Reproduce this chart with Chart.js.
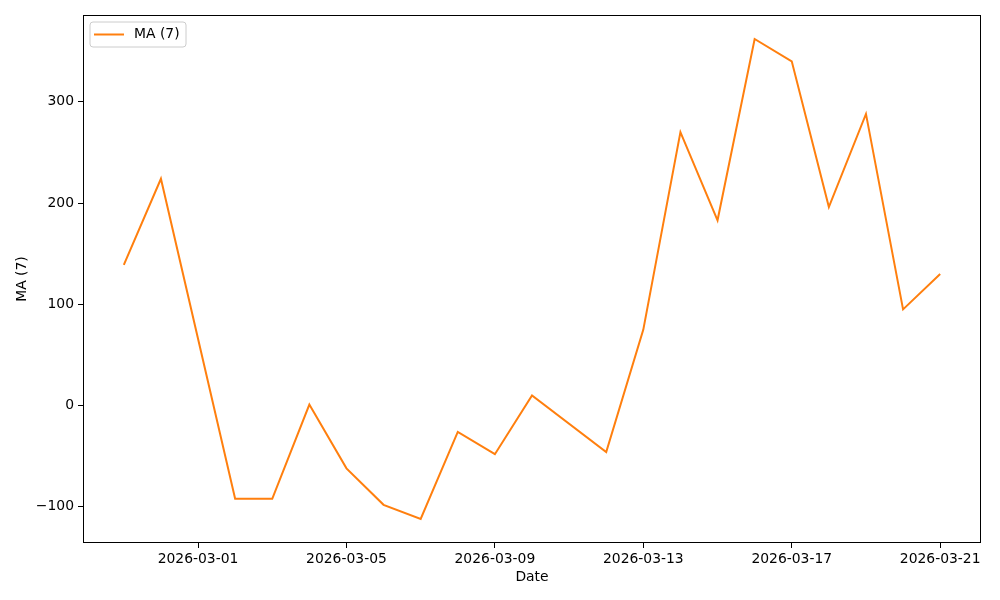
<!DOCTYPE html>
<html><head><meta charset="utf-8">
<script src="https://cdn.jsdelivr.net/npm/chart.js@4"></script>
<style>html,body{margin:0;padding:0;background:#fff}#wrap{width:1000px;height:600px}</style>
</head><body><div id="wrap"><canvas id="c" width="1000" height="600"></canvas></div>
<script>
const dates = ["2026-02-27","2026-02-28","2026-03-02","2026-03-03","2026-03-04","2026-03-05","2026-03-06","2026-03-07","2026-03-08","2026-03-09","2026-03-10","2026-03-12","2026-03-13","2026-03-14","2026-03-15","2026-03-16","2026-03-17","2026-03-18","2026-03-19","2026-03-20","2026-03-21"];
const maValues = [139, 224, -92, -92, 1, -62, -98, -112, -26, -48, 10, -46, 75, 270, 183, 362, 340, 196, 288, 95, 130];
const xTickDates = ["2026-03-01","2026-03-05","2026-03-09","2026-03-13","2026-03-17","2026-03-21"];
const yTicks = [-100, 0, 100, 200, 300];
const seriesLabel = "MA (7)";

const DAY = 86400000;
const base = Date.UTC(2026,1,27);
const toDay = s => { const [y,m,d] = s.split("-").map(Number); return (Date.UTC(y,m-1,d)-base)/DAY; };
const fromDay = v => { const t = new Date(base + Math.round(v)*DAY); return t.toISOString().slice(0,10); };
const pts = dates.map((d,i)=>({x:toDay(d), y:maValues[i]}));
const xs = pts.map(p=>p.x), ys = maValues;
const xmin = Math.min(...xs), xmax = Math.max(...xs), ymin = Math.min(...ys), ymax = Math.max(...ys);
const xm = (xmax-xmin)*0.05, ym = (ymax-ymin)*0.05;
const FONT = "DejaVu Sans";
const FS = 13.9;
const color = "#ff7f0e";

const framePlugin = {
  id:'frame',
  afterDraw(chart){
    const {ctx, chartArea:a} = chart;
    ctx.save();
    ctx.strokeStyle = '#000'; ctx.lineWidth = 1;
    ctx.strokeRect(Math.round(a.left)+0.5, Math.round(a.top)+0.5, Math.round(a.right-a.left)-1, Math.round(a.bottom-a.top)-1);
    // legend
    const lx = a.left+7, ly = a.top+7, lw = 96, lh = 25;
    ctx.beginPath();
    const r = 3;
    ctx.moveTo(lx+r,ly); ctx.lineTo(lx+lw-r,ly); ctx.quadraticCurveTo(lx+lw,ly,lx+lw,ly+r);
    ctx.lineTo(lx+lw,ly+lh-r); ctx.quadraticCurveTo(lx+lw,ly+lh,lx+lw-r,ly+lh);
    ctx.lineTo(lx+r,ly+lh); ctx.quadraticCurveTo(lx,ly+lh,lx,ly+lh-r);
    ctx.lineTo(lx,ly+r); ctx.quadraticCurveTo(lx,ly,lx+r,ly); ctx.closePath();
    ctx.fillStyle='rgba(255,255,255,0.8)'; ctx.fill();
    ctx.strokeStyle='#cccccc'; ctx.stroke();
    ctx.beginPath(); ctx.strokeStyle=color; ctx.lineWidth=2;
    ctx.moveTo(lx+4, ly+12.5); ctx.lineTo(lx+34, ly+12.5); ctx.stroke();
    ctx.fillStyle='#000'; ctx.font = FS+'px "'+FONT+'"'; ctx.textBaseline='middle'; ctx.textAlign='left';
    ctx.fillText(seriesLabel, lx+44, ly+12.5);
    ctx.restore();
  }
};

new Chart(document.getElementById('c'), {
  type:'line',
  data:{ datasets:[{ label:seriesLabel, data:pts, borderColor:color, backgroundColor:color, borderWidth:2, pointRadius:0, tension:0, fill:false }]},
  options:{
    responsive:false, animation:false,
    layout:{ padding:{ top:15, right:19, left:0, bottom:0 } },
    plugins:{ legend:{display:false}, tooltip:{enabled:false} },
    scales:{
      x:{ type:'linear', min:xmin-xm, max:xmax+xm,
        afterBuildTicks(s){ s.ticks = xTickDates.map(d=>({value:toDay(d)})); },
        afterFit(s){ s.height = 57; },
        ticks:{ callback:v=>fromDay(v), color:'#000', font:{family:FONT,size:FS}, padding:3, maxRotation:0, autoSkip:false },
        grid:{ drawOnChartArea:false, drawTicks:true, tickLength:5, tickColor:'#000' },
        border:{ display:false },
        title:{ display:true, text:'Date', color:'#000', font:{family:FONT,size:FS}, padding:{top:2,bottom:14} }
      },
      y:{ type:'linear', min:ymin-ym, max:ymax+ym,
        afterBuildTicks(s){ s.ticks = yTicks.map(v=>({value:v})); },
        afterFit(s){ s.width = 83; },
        ticks:{ callback:v=> (v<0?'\u2212'+Math.abs(v):String(v)), color:'#000', font:{family:FONT,size:FS}, padding:4 },
        grid:{ drawOnChartArea:false, drawTicks:true, tickLength:5, tickColor:'#000' },
        border:{ display:false },
        title:{ display:true, text:'MA (7)', color:'#000', font:{family:FONT,size:FS}, padding:{top:14,bottom:0} }
      }
    }
  },
  plugins:[framePlugin]
});
</script></body></html>
